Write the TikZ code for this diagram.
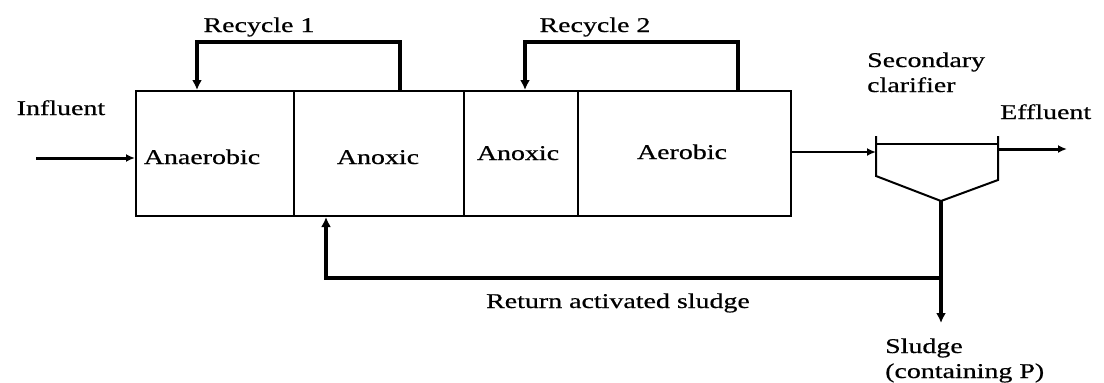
\documentclass[tikz,border=0pt]{standalone}
\usepackage{fontspec}
\setmainfont[FakeStretch=1.33,FakeBold=0.6]{Liberation Serif}
\usetikzlibrary{arrows.meta}
\begin{document}
\begin{tikzpicture}[x=1pt,y=-1pt,
  lbl/.style={inner sep=0pt,anchor=base,font=\fontsize{21}{26}\selectfont},
  lblw/.style={lbl,anchor=base west},
  zone/.style={draw,line width=2pt,minimum height=125pt,inner sep=0pt},
  thin/.style={line width=2pt},
  flow/.style={line width=3pt,-{Latex[length=9pt,width=8pt]}},
  heavyarr/.style={line width=4pt,-{Latex[length=10pt,width=10pt]}}]
\useasboundingbox (0,0) rectangle (1104,383);

% reactor zones
\node[zone,minimum width=158pt] (an)  at (215,153.5) {};
\node[zone,minimum width=170pt] (ax1) at (379,153.5) {};
\node[zone,minimum width=114pt] (ax2) at (521,153.5) {};
\node[zone,minimum width=213pt] (aer) at (684.5,153.5) {};

\node[lbl] (tan)  at (202,164) {Anaerobic};
\node[lbl] (tax1) at (378,164) {Anoxic};
\node[lbl] (tax2) at (518,160) {Anoxic};
\node[lbl] (taer) at (682,159) {Aerobic};

% secondary clarifier
\coordinate (cl1) at (876,136);
\coordinate (cl2) at (876,176);
\coordinate (cr1) at (998,136);
\coordinate (cr2) at (998,180);
\coordinate (apex) at (941,201);
\draw[thin] (cl1) -- (cl2) -- (apex) -- (cr2) -- (cr1);
\draw[thin] (876,144) -- (998,144);

% labels
\node[lbl] (rc1) at (259,32) {Recycle 1};
\node[lbl] (rc2) at (595,32) {Recycle 2};
\node[lbl] (infl) at (61,115) {Influent};
\node[lblw] (sec1) at (867,67) {Secondary};
\node[lblw] (sec2) at (867,92) {clarifier};
\node[lblw] (effl) at (1000,119) {Effluent};
\node[lbl] (ras) at (618,308) {Return activated sludge};
\node[lblw] (sl1) at (885,353) {Sludge};
\node[lblw] (sl2) at (885,378) {(containing P)};

% influent
\coordinate (inf) at (36,158);
\draw[flow] (inf) -- (inf -| an.west);

% internal recycles
\draw[heavyarr] ([xshift=107pt]ax1.north west) -- ++(0,-48)
  -| ([xshift=62pt]an.north west);
\draw[heavyarr] ([xshift=161pt]aer.north west) -- ++(0,-48)
  -| ([xshift=62pt]ax2.north west);

% to clarifier and effluent
\coordinate (mix) at (aer.east |- 0,152);
\draw[line width=2.5pt,-{Latex[length=9pt,width=8pt]}] (mix) -- (mix -| cl1);
\coordinate (eff) at (998,149);
\coordinate (effend) at (1067,149);
\draw[flow] (eff) -- (effend);

% sludge withdrawal and return
\coordinate (waste) at (941,323);
\coordinate (split) at (941,278);
\draw[heavyarr] (apex) -- (waste);
\draw[heavyarr] (split) -| ([xshift=-53pt]ax1.south);
\end{tikzpicture}
\end{document}
